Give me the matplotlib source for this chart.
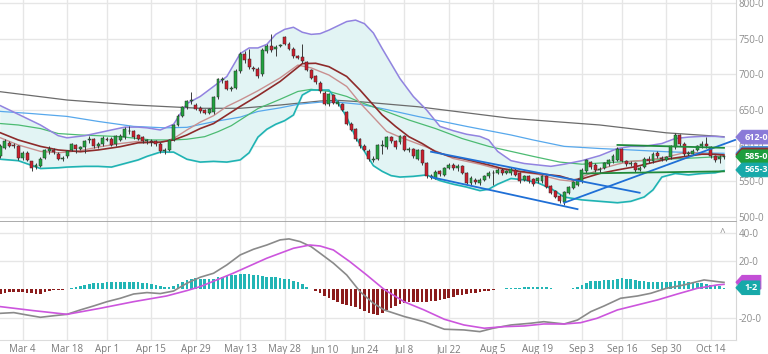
import numpy as np
import matplotlib.pyplot as plt
from matplotlib.path import Path

plt.rcParams['font.family'] = ['Open Sans', 'DejaVu Sans']

# ---- daily candles (one per trading day, index 0 .. 163) ----
opens = [586, 597, 604, 601, 599, 583, 590, 578, 570, 572,
         583, 593, 594, 589, 581, 585, 594, 601, 596, 598,
         608, 609, 599, 602, 610, 610, 602, 608, 612, 620,
         620, 615, 612, 606, 606, 606, 603, 593, 594, 608,
         629, 642, 654, 662, 657, 653, 650, 646, 647, 668,
         692, 690, 680, 681, 704, 728, 721, 709, 708, 700,
         733, 740, 735, 740, 752, 743, 736, 725, 724, 717,
         706, 697, 688, 674, 658, 671, 658, 658, 647, 631,
         623, 609, 600, 593, 580, 582, 600, 598, 612, 606,
         605, 613, 594, 595, 582, 594, 575, 556, 555, 564,
         559, 569, 573, 568, 571, 561, 548, 552, 548, 552,
         557, 561, 562, 566, 562, 561, 566, 561, 552, 557,
         553, 550, 550, 557, 543, 536, 530, 521, 534, 541,
         545, 550, 564, 577, 573, 566, 569, 574, 578, 580,
         595, 578, 574, 575, 566, 570, 582, 578, 590, 583,
         580, 584, 598, 615, 603, 589, 589, 594, 599, 603,
         598, 585, 581, 584]
highs = [603, 610, 607, 604, 601, 592, 592, 579, 576, 584,
         596, 599, 597, 591, 585, 594, 604, 603, 600, 608,
         614, 611, 605, 613, 612, 612, 615, 616, 626, 628,
         622, 617, 614, 609, 610, 608, 605, 597, 610, 631,
         645, 656, 664, 675, 660, 655, 652, 653, 670, 695,
         696, 692, 684, 707, 731, 733, 735, 712, 710, 737,
         742, 756, 741, 743, 754, 745, 738, 727, 742, 719,
         708, 699, 690, 676, 674, 673, 663, 660, 649, 633,
         625, 611, 602, 595, 585, 603, 608, 614, 614, 608,
         615, 615, 598, 597, 596, 596, 577, 560, 566, 566,
         570, 576, 575, 574, 573, 563, 557, 554, 555, 559,
         564, 566, 568, 568, 566, 570, 568, 563, 559, 559,
         555, 556, 559, 559, 545, 538, 532, 537, 544, 551,
         554, 568, 582, 579, 575, 570, 577, 582, 588, 598,
         597, 580, 578, 577, 571, 584, 585, 591, 593, 586,
         586, 601, 618, 617, 605, 593, 595, 601, 607, 612,
         600, 587, 587, 586]
lows = [583, 595, 598, 597, 580, 580, 578, 565, 567, 570,
        581, 588, 589, 580, 579, 583, 592, 590, 594, 590,
        604, 597, 597, 600, 606, 599, 600, 606, 610, 616,
        610, 608, 604, 603, 600, 600, 590, 588, 592, 606,
        627, 640, 652, 658, 650, 646, 644, 644, 645, 666,
        688, 678, 677, 679, 702, 716, 707, 704, 695, 698,
        730, 732, 726, 738, 741, 734, 723, 721, 716, 704,
        693, 687, 674, 657, 656, 658, 656, 648, 629, 620,
        607, 597, 592, 579, 577, 580, 589, 596, 604, 596,
        603, 592, 591, 583, 580, 573, 555, 553, 553, 557,
        557, 567, 566, 565, 560, 546, 545, 546, 545, 550,
        555, 545, 560, 559, 560, 559, 557, 548, 550, 548,
        544, 548, 548, 540, 532, 526, 519, 517, 532, 539,
        543, 548, 562, 567, 563, 562, 567, 572, 576, 578,
        577, 572, 571, 563, 564, 568, 576, 576, 583, 579,
        578, 582, 596, 600, 586, 585, 587, 592, 597, 597,
        583, 577, 575, 582]
closes = [600, 606, 600, 600, 583, 590, 580, 569, 573, 582,
          594, 595, 591, 582, 583, 592, 602, 595, 598, 606,
          610, 599, 603, 611, 608, 601, 613, 614, 624, 621,
          612, 610, 606, 608, 605, 602, 593, 594, 608, 629,
          642, 654, 662, 664, 652, 648, 646, 651, 668, 693,
          693, 680, 681, 705, 729, 720, 710, 708, 697, 734,
          740, 734, 739, 741, 743, 736, 725, 723, 718, 706,
          695, 689, 676, 659, 672, 660, 661, 650, 631, 622,
          609, 599, 594, 581, 582, 601, 601, 612, 606, 598,
          613, 594, 596, 585, 594, 575, 557, 557, 563, 560,
          568, 573, 568, 571, 562, 548, 554, 549, 552, 557,
          562, 562, 566, 561, 564, 567, 559, 550, 557, 550,
          546, 554, 557, 542, 534, 528, 522, 535, 542, 549,
          552, 566, 580, 570, 566, 567, 575, 580, 586, 595,
          579, 574, 575, 566, 568, 582, 578, 589, 585, 581,
          584, 599, 615, 603, 589, 590, 593, 599, 603, 599,
          585, 580, 584, 584.5]

tick_pos = [5, 15, 24, 34, 44, 54, 64, 73, 82, 91, 101, 111, 121, 131, 140, 150, 160]
tick_labels = ['Mar 4', 'Mar 18', 'Apr 1', 'Apr 15', 'Apr 29', 'May 13', 'May 28',
               'Jun 10', 'Jun 24', 'Jul 8', 'Jul 22', 'Aug 5', 'Aug 19', 'Sep 3',
               'Sep 16', 'Sep 30', 'Oct 14']

# ---- bollinger bands (read at the same bar positions) ----
bb_x = [0, 4, 9, 13, 15, 19, 22, 25, 28, 31, 33, 36, 39, 42, 45, 48, 51, 54, 56, 58,
        60, 62, 64, 66, 68, 70, 72, 74, 76, 78, 80, 82, 84, 86, 88, 90, 93, 96, 99, 102,
        105, 108, 110, 112, 115, 118, 121, 124, 127, 131, 135, 139, 142, 145, 147, 149,
        152, 155, 158, 161, 163]
bb_upper = [656, 644, 629, 614, 611, 614, 618, 622, 626, 626, 625, 622, 630, 659, 669,
            683, 697, 729, 737, 737, 742, 756, 763, 766, 759, 756, 757, 762, 768, 774,
            776, 771, 758, 736, 715, 694, 669, 650, 627, 621, 616, 613, 608, 592, 579,
            575, 573, 571, 574, 579, 586, 596, 599, 599, 601, 603, 610, 612, 613, 613, 612]
bb_lower = [581, 579, 568, 569, 570, 571, 571, 570, 575, 580, 585, 591, 591, 581, 577,
            578, 577, 580, 590, 612, 623, 630, 635, 643, 671, 678, 678, 678, 661, 640,
            612, 592, 572, 564, 558, 556, 557, 559, 551, 546, 542, 537, 539, 546, 554,
            552, 548, 540, 528, 524, 522, 520, 522, 528, 538, 556, 561, 559, 561, 562, 565]

# ---- moving averages ----
ma_dark_x = [0, 4, 9, 13, 18, 22, 27, 31, 36, 39, 42, 45, 48, 51, 54, 58, 63, 68, 71, 74,
             78, 81, 86, 89, 92, 95, 98, 101, 104, 107, 110, 113, 117, 121, 126, 129, 131,
             135, 139, 143, 146, 150, 154, 158, 161, 163]
ma_dark_y = [618, 608, 599, 594, 591.5, 594, 598.6, 604, 605, 608, 615, 624, 631, 643, 655,
             670, 690, 715, 715.5, 710.7, 697, 678, 643, 627, 612.6, 603, 591.5, 585.5, 582,
             577.5, 573, 568, 564, 561, 557.5, 552, 553.5, 561, 566, 570.5, 575, 581, 584.6,
             588, 588, 587]
ma_light_x = [0, 4, 9, 13, 18, 22, 27, 31, 36, 39, 42, 45, 48, 51, 54, 58, 63, 67, 70, 74,
              78, 81, 84, 87, 90, 93, 96, 99, 102, 105, 108, 111, 114, 117, 121, 126, 129,
              131, 135, 139, 142, 146, 150, 154, 157, 160, 163]
ma_light_y = [611, 601, 592, 590, 593, 598, 603, 606, 604, 610, 622, 633, 642, 655, 664,
              677, 695, 713, 709, 699, 683, 660, 640, 620, 612, 605, 598, 590, 582, 578,
              574, 569, 566, 563, 560, 552, 550, 556, 567, 574, 578, 580, 584, 590, 590,
              588, 586]
ma_green_x = [0, 4, 9, 13, 18, 22, 27, 34, 39, 42, 46, 49, 52, 54, 58, 63, 67, 70, 74, 78,
              81, 86, 92, 98, 104, 110, 115, 120, 126, 131, 136, 142, 150, 157, 163]
ma_green_y = [631, 629, 624, 617, 615, 614, 612.6, 608, 608, 609, 612.6, 619.6, 628, 636,
              652, 665, 676, 679, 676, 669, 661, 650, 636, 624, 610, 599, 592, 585, 577,
              574, 576, 578, 581, 583, 585]
ma_blue_x = [0, 7, 15, 22, 30, 37, 42, 48, 54, 58, 63, 67, 72, 76, 81, 86, 94, 105, 115,
             120, 127, 135, 142, 150, 157, 163]
ma_blue_y = [648, 645, 641, 634, 627, 625, 625.7, 633.6, 640, 648, 653, 658, 661, 661, 658,
             652, 641, 627, 615, 608, 599, 596, 594, 591.5, 590, 589.3]
ma_gray_x = [0, 15, 30, 45, 54, 63, 72, 76, 81, 94, 115, 135, 150, 163]
ma_gray_y = [675.6, 664, 657, 652.4, 652.4, 657, 662.6, 663.5, 661.6, 654.6, 638.3, 629,
             618, 612.6]

# ---- drawn trend lines ----
desc_hi_x, desc_hi_y = [97, 144], [591.5, 534]
desc_lo_x, desc_lo_y = [97, 130], [556, 511]
rise_x, rise_y = [127, 165.5], [520, 608]
chan_hi_x, chan_hi_y = [139, 163], [601, 597]
chan_lo_x, chan_lo_y = [131, 163], [561, 564]

# ---- MACD panel ----
macd_x = [0, 3, 6, 9, 12, 15, 18, 21, 24, 27, 30, 33, 36, 39, 42, 45, 48, 51, 54, 57,
          60, 63, 65, 67.5, 70, 72, 75, 78, 81, 84, 86.4, 91, 95.4, 100, 104.4, 108, 111,
          115, 119.4, 122.4, 127, 130, 133, 136, 139.7, 143.5, 146.5, 150, 154, 158.5,
          161.5, 163]
macd_y = [-16.8, -16.3, -18, -19.6, -18.5, -17.5, -14.4, -11.6, -8.6, -6.2, -3.2, -2.2,
          -2.9, -1.1, 4.4, 8.6, 11.4, 17.3, 24.3, 28.3, 31.3, 34.9, 35.6, 33.7, 30.1,
          25.5, 18.5, 10.2, -1.5, -9.7, -14.4, -19.1, -22.7, -28, -28.5, -29.7, -27.3,
          -25, -23.8, -22.7, -24.3, -21.5, -15.6, -11.6, -6.2, -4.6, -2.7, 0.8, 3.2, 6.7,
          5.5, 5]
signal_x = [0, 7.4, 15, 22.4, 30, 37.4, 42, 45, 52.4, 60, 66, 69.7, 72, 75, 78.7, 82.5,
            86.4, 90.9, 95.4, 100, 104.4, 109, 113.4, 118, 122.4, 127, 130.7, 134.4, 139,
            143.5, 148, 152.5, 157, 161.5, 163]
signal_y = [-12.1, -14.9, -17.5, -13.3, -8.6, -4.6, -0.8, 2, 11.4, 22, 29, 31.3, 30.6,
            27.8, 19.6, 10.2, 0.1, -8.6, -14.4, -21, -25, -27.3, -26.2, -25.7, -24.3,
            -24.3, -23.4, -20.3, -14.4, -10.9, -7.4, -3.2, 0.8, 3.2, 3.6]
hist = [-3.3, -2.6, -1.9, -1.9, -1.9, -2.1, -2.3, -2.6, -3.1, -3.1, -2.1, -1.2, -0.7, -0.35, -0.1,
        0.2, 0.9, 1.6, 2.3, 3.1, 3.8, 4.2, 4.5, 4.7, 4.9, 4.9, 5.2, 5.4, 5.6, 5.6,
        5.4, 4.9, 4.7, 4.2, 3.8, 3.1, 2.1, 1.4, 1.6, 2.6, 4.0, 5.4, 6.8, 7.5, 8.0,
        7.7, 7.5, 7.3, 7.5, 8.5, 8.9, 9.4, 9.9, 10.3, 10.8, 11.0, 10.8, 10.3, 9.9, 9.4,
        8.9, 8.7, 8.5, 8.2, 7.7, 7.3, 6.3, 5.2, 3.5, 1.6, 0.2, -1.2, -2.8, -4.7, -6.1,
        -7.5, -8.7, -9.9, -10.8, -11.7, -12.7, -13.8, -15.0, -16.4, -17.4, -17.8, -16.9, -14.6, -12.9, -11.3,
        -10.1, -9.4, -8.9, -8.7, -8.7, -8.7, -8.7, -8.2, -8.0, -7.5, -7.0, -6.1, -5.2, -4.2, -3.8,
        -3.3, -2.8, -2.3, -1.9, -1.4, -0.9, -0.5, 0.2, 0.5, 0.7, 0.9, 1.2, 1.2, 1.4, 1.4,
        1.6, 1.9, 1.9, 1.6, 1.2, 0.5, 0.1, 0.2, 0.5, 0.9, 1.9, 3.1, 4.7, 5.9, 6.1,
        6.3, 6.6, 6.8, 7.0, 7.5, 8.0, 7.7, 7.3, 6.6, 6.1, 5.9, 5.6, 5.6, 5.6, 5.4,
        5.2, 5.6, 6.3, 6.3, 6.1, 5.6, 5.2, 4.7, 4.2, 3.5, 3.1, 2.8, 2.3, 1.2]

UP, DOWN = '#21a33f', '#cc1f2d'
GRID = '#e6e6e6'


def tag_box(x0, y0, width, height, mutation_size):
    # price tag with a pointed left side
    pad = 0.25 * mutation_size
    x0, y0 = x0 - pad, y0 - pad
    x1, y1 = x0 + width + 2 * pad, y0 + height + 2 * pad
    ym = (y0 + y1) / 2
    tip = (y1 - y0) * 0.45
    return Path([(x0 - tip, ym), (x0, y1), (x1, y1), (x1, y0), (x0, y0), (x0 - tip, ym)],
                closed=True)


def tag(ax, value, text, color, z):
    # hidden tags (mostly covered by the ones on top) get blank text
    ax.annotate(text, xy=(1, value), xycoords=ax.get_yaxis_transform(),
                xytext=(6, 0), textcoords='offset points', ha='left', va='center',
                fontsize=6.5, color='white', fontweight='bold',
                bbox=dict(boxstyle=tag_box, fc=color, ec=color, lw=0.8),
                annotation_clip=False, zorder=z)


fig = plt.figure(figsize=(7.68, 3.54), dpi=100)
ax = fig.add_axes([0, 0.3729, 0.9583, 0.6271])
ax2 = fig.add_axes([0, 0.0395, 0.9583, 0.3334])

x = np.arange(len(closes))
o, h, l, c = map(np.array, (opens, highs, lows, closes))

# bands and averages
ax.fill_between(bb_x, bb_lower, bb_upper, color='#e2f4f4', zorder=1)
ax.plot(bb_x, bb_upper, color='#9283e0', lw=1.1, zorder=3)
ax.plot(bb_x, bb_lower, color='#1fb3b3', lw=1.2, zorder=3)
ax.plot(ma_gray_x, ma_gray_y, color='#6b6b6b', lw=0.9, zorder=2)
ax.plot(ma_blue_x, ma_blue_y, color='#57a8ec', lw=0.9, zorder=2)
ax.plot(ma_green_x, ma_green_y, color='#4cbb72', lw=0.9, zorder=2)
ax.plot(ma_light_x, ma_light_y, color='#c99090', lw=1.0, zorder=3)
ax.plot(ma_dark_x, ma_dark_y, color='#8e2b2b', lw=1.2, zorder=3)

# candles
up = c >= o
ax.vlines(x, l, h, color='#3a3a3a', lw=0.7, zorder=4)
body = np.maximum(np.abs(c - o), 0.9)
ax.bar(x, body, bottom=np.minimum(o, c), width=0.66,
       color=np.where(up, UP, DOWN), edgecolor='#2a2a2a', linewidth=0.35, zorder=5)

# drawn lines
for xs, ys in [(desc_hi_x, desc_hi_y), (desc_lo_x, desc_lo_y), (rise_x, rise_y)]:
    ax.plot(xs, ys, color='#1f6fd6', lw=1.3, zorder=6, clip_on=False)
for xs, ys in [(chan_hi_x, chan_hi_y), (chan_lo_x, chan_lo_y)]:
    ax.plot(xs, ys, color='#208a3c', lw=1.3, zorder=6)

ax.set_xlim(-0.11, 165.7)
ax.set_ylim(493, 804.2)
ax.set_yticks([500, 550, 600, 650, 700, 750, 800])
ax.set_yticklabels(['500-0', '550-0', '600-0', '650-0', '700-0', '750-0', '800-0'])
ax.set_xticks(tick_pos)
ax.tick_params(axis='x', length=0, labelbottom=False)
ax.tick_params(axis='y', length=0, left=False, labelleft=False, right=False,
               labelright=True, pad=2, labelsize=7, labelcolor='#8c8c8c')
ax.grid(color=GRID, lw=1)
ax.set_axisbelow(True)
for s in ['top', 'left']:
    ax.spines[s].set_visible(False)
ax.spines['right'].set_color('#d6d6d6')
ax.spines['bottom'].set_color('#9d9d9d')
ax.spines['bottom'].set_linewidth(1.2)

tag(ax, ma_blue_y[-1], '          ', '#4b95e0', 20)
tag(ax, ma_dark_y[-1], '          ', '#8e2b2b', 21)
tag(ax, bb_upper[-1], '612-0', '#8a7ad8', 22)
tag(ax, ma_green_y[-1] - 0.5, '585-0', '#1e9e3e', 23)
tag(ax, bb_lower[-1] + 1, '565-3', '#17a9a9', 24)

# MACD panel
hv = np.array(hist)
ax2.bar(x, hv, width=0.6, color=np.where(hv >= 0, '#22b5b5', '#8b1c1c'), zorder=2)
ax2.plot(macd_x, macd_y, color='#8a8a8a', lw=1.2, zorder=3)
ax2.plot(signal_x, signal_y, color='#cc55dd', lw=1.2, zorder=3)
ax2.set_xlim(-0.11, 165.7)
ax2.set_ylim(-35.6, 47.5)
ax2.set_yticks([-20, 20, 40])
ax2.set_yticklabels(['-20-0', '20-0', '40-0'])
ax2.set_xticks(tick_pos)
ax2.set_xticklabels(tick_labels)
ax2.tick_params(axis='x', length=0, pad=3, labelsize=7, labelcolor='#7a7a7a')
ax2.tick_params(axis='y', length=0, left=False, labelleft=False, right=False,
                labelright=True, pad=2, labelsize=7, labelcolor='#8c8c8c')
ax2.grid(color=GRID, lw=1)
ax2.set_axisbelow(True)
for s in ['top', 'left']:
    ax2.spines[s].set_visible(False)
ax2.spines['right'].set_color('#d6d6d6')
ax2.spines['bottom'].set_color('#dcdcdc')
ax2.text(0.981, 0.9, '^', transform=ax2.transAxes, ha='center', va='center',
         fontsize=7, color='#8c8c8c')

tag(ax2, signal_y[-1] + 1.5, '      ', '#c34fd6', 20)
tag(ax2, hist[-1], '1-2', '#17a9a9', 21)

fig.savefig('out.png', dpi=100)
